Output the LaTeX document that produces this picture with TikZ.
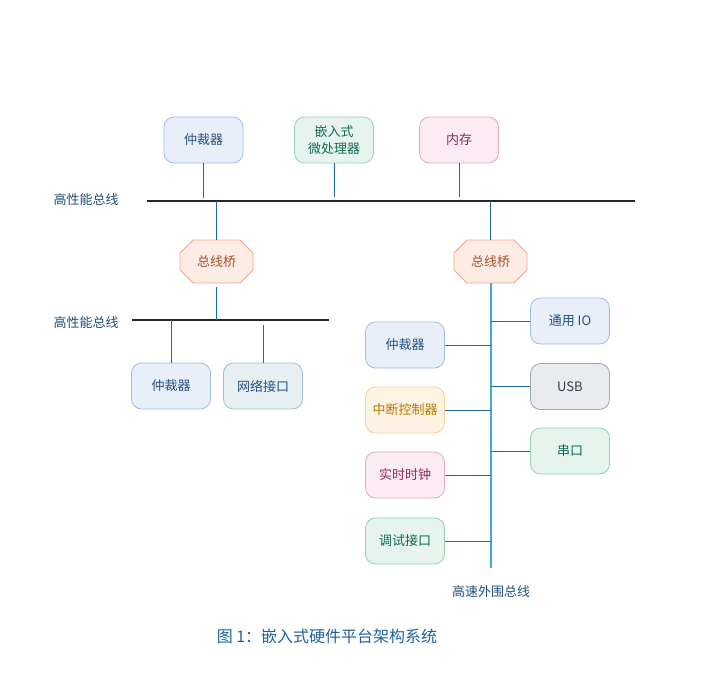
\documentclass[tikz,border=0pt]{standalone}
\usepackage{fontspec}
\setmainfont{Noto Sans CJK SC}
\usetikzlibrary{shapes.misc}
\definecolor{bluefill}{HTML}{E9EFF9}
\definecolor{blueline}{HTML}{9DBDE6}
\definecolor{bluetext}{HTML}{24507F}
\definecolor{greenfill}{HTML}{E7F4EE}
\definecolor{greenline}{HTML}{8FD3B7}
\definecolor{greentext}{HTML}{0E6B55}
\definecolor{pinkfill}{HTML}{FBEBF2}
\definecolor{pinkline}{HTML}{E6A8C2}
\definecolor{pinktext}{HTML}{8E2A57}
\definecolor{orangefill}{HTML}{FFF3E4}
\definecolor{orangeline}{HTML}{F9CF9C}
\definecolor{orangetext}{HTML}{B57700}
\definecolor{grayfill}{HTML}{E9EBEF}
\definecolor{grayline}{HTML}{9DA5B6}
\definecolor{graytext}{HTML}{333B4A}
\definecolor{tealfill}{HTML}{E8EFF2}
\definecolor{tealline}{HTML}{9EC2D3}
\definecolor{bridgefill}{HTML}{FCECE5}
\definecolor{bridgeline}{HTML}{F2A78B}
\definecolor{bridgetext}{HTML}{A0522D}
\definecolor{linkcol}{HTML}{1F6A9C}
\definecolor{fastbus}{HTML}{4AA8CE}
\definecolor{labeltext}{HTML}{1F4E79}
\definecolor{captext}{HTML}{1F62A0}
\begin{document}
\begin{tikzpicture}[x=1pt,y=-1pt,every node/.style={font=\fontsize{13}{17}\selectfont},
	unit/.style={rounded corners=10pt, minimum width=79pt, minimum height=46pt, inner sep=0pt, align=center, line width=0.8pt},
	blueunit/.style={unit, fill=bluefill, draw=blueline, text=bluetext},
	greenunit/.style={unit, fill=greenfill, draw=greenline, text=greentext},
	pinkunit/.style={unit, fill=pinkfill, draw=pinkline, text=pinktext},
	orangeunit/.style={unit, fill=orangefill, draw=orangeline, text=orangetext},
	grayunit/.style={unit, fill=grayfill, draw=grayline, text=graytext},
	tealunit/.style={unit, fill=tealfill, draw=tealline, text=bluetext},
	bridge/.style={chamfered rectangle, chamfered rectangle xsep=7pt, chamfered rectangle ysep=7pt, minimum width=73pt, minimum height=43pt, inner sep=0pt, fill=bridgefill, draw=bridgeline, text=bridgetext, line width=0.8pt},
	link/.style={draw=linkcol, line width=0.9pt},
	busline/.style={draw=black!85, line width=2pt},
	buslabel/.style={text=labeltext}]
	\useasboundingbox (0,0) rectangle (724,678);
	% high performance bus, top
	\coordinate (busAw) at (147,201);
	\coordinate (busAe) at (635,201);
	\draw[busline] (busAw) -- (busAe);
	\node[buslabel, anchor=west] (busAlabel) at (50,200) {高性能总线};
	\node[blueunit] (arbA) at (203.5,140) {仲裁器};
	\node[greenunit] (cpu) at (334,140) {嵌入式\\微处理器};
	\node[pinkunit] (mem) at (459,140) {内存};
	\node[bridge] (bridgeL) at (216.5,261.5) {总线桥};
	\node[bridge] (bridgeR) at (490.5,261.5) {总线桥};
	\draw[link] (arbA.south) -- ++(0,35);
	\draw[link] (cpu.south) -- ++(0,34);
	\draw[link] (mem.south) -- ++(0,34);
	\draw[link] (bridgeL.north) -- (bridgeL.north |- busAw);
	\draw[link] (bridgeR.north) -- (bridgeR.north |- busAw);
	% high performance bus, lower left
	\coordinate (busBw) at (132,320);
	\coordinate (busBe) at (329,320);
	\draw[busline] (busBw) -- (busBe);
	\node[buslabel, anchor=west] (busBlabel) at (50,323) {高性能总线};
	\node[blueunit] (arbB) at (171,386) {仲裁器};
	\node[tealunit] (net) at (263,386) {网络接口};
	\draw[link] (bridgeL.south) ++(0,4) -- (bridgeL.south |- busBw);
	\draw[link] (arbB.north) -- (arbB.north |- busBw);
	\draw[link] (net.north) -- ++(0,-38);
	% fast peripheral bus
	\coordinate (busCn) at (491,283);
	\coordinate (busCs) at (491,568);
	\draw[draw=fastbus, line width=2.6pt] (busCn) -- (busCs);
	\node[buslabel] (busClabel) at (491,592) {高速外围总线};
	\node[blueunit] (gpio) at (570,321) {通用 IO};
	\node[grayunit] (usb) at (570,386.5) {USB};
	\node[greenunit] (uart) at (570,451) {串口};
	\node[blueunit] (arbC) at (405,345) {仲裁器};
	\node[orangeunit] (irq) at (405,410) {中断控制器};
	\node[pinkunit] (rtc) at (405,475) {实时时钟};
	\node[greenunit] (dbg) at (405,541) {调试接口};
	\foreach \n in {gpio,usb,uart}
		\draw[link] (\n.west) -- (\n.west -| busCn);
	\foreach \n in {arbC,irq,rtc,dbg}
		\draw[link] (\n.east) -- (\n.east -| busCn);
	\node[text=captext, font=\fontsize{16}{20}\selectfont] (caption) at (327,636) {图 1：嵌入式硬件平台架构系统};
\end{tikzpicture}
\end{document}
